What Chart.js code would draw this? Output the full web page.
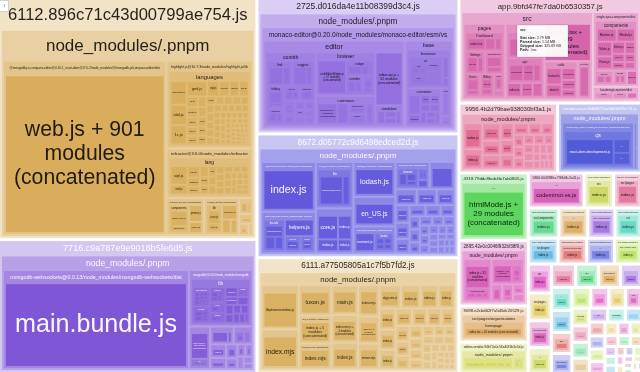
<!DOCTYPE html>
<html>
<head>
<meta charset="utf-8">
<title>bundle treemap</title>
<script src="https://cdn.jsdelivr.net/npm/chart.js@4.4.1/dist/chart.umd.min.js"></script>
<style>
  html, body { margin: 0; padding: 0; background: #fff; overflow: hidden; }
  canvas { display: block; }
</style>
</head>
<body>
<canvas id="treemap" width="640" height="372"></canvas>
<script>
/* --------------------- CHUNKS (parsed KB) --------------------- */
const chunkNames = [
  "6112.896c71c43d00799ae754.js",
  "7716.c9a787e9e9018b5fe6d5.js",
  "2725.d016da4e11b08399d3c4.js",
  "8672.d05772c9d6498edced2d.js",
  "6111.a77505805a1c7f5b7fd2.js",
  "app.9bfd47fe7da0b6530357.js",
  "9956.4b2d79bae938030bf3a1.js",
  "vendor-react.9dfd872ae6d66485c74.js",
  "4318.79ddc8bab4fa7ab0805.js",
  "2895.42e0c0046f932bf38f9.js",
  "9098.e2cbd02f7a5d5dc20529.js",
  "editor-vendor.94b72a0c56e40f1b3c2d.js"
];
const chunkKB = [602, 331, 263, 240, 224, 182, 65, 55, 45.6, 44, 23.4, 20];

/* small chunks filling the bottom right corner */
const restNames = [
  "5866.604398fcc73f4d3c2a01.js", "1043.a7e2b9c4d5f6e8a1.js", "spa-root.4c1e9a7b2d3f.js", "7520.2f4b6c8d0e1a3c5e.js",
  "4471.b3d5f7a9c1e3b5d7.js", "936.c8e0a2b4d6f8a0c2.js", "2210.d9f1b3c5e7a9b1d3.js", "6654.e0a2c4e6b8d0f2a4.js",
  "8135.f1b3d5f7c9e1a3b5.js", "512.a2c4e6a8d0f2b4c6.js", "3907.b3d5f7b9e1a3c5d7.js", "7761.c4e6a8c0f2b4d6e8.js",
  "1390.d5f7b9d1a3c5e7f9.js", "5528.e6a8c0e2b4d6f8a0.js", "269.f7b9d1f3c5e7a9b1.js", "4812.a8c0e2a4d6f8b0c2.js",
  "6093.b9d1f3b5e7a9c1d3.js", "8847.c0e2a4c6f8b0d2e4.js", "1675.d1f3b5d7a9c1e3f5.js", "3342.e2a4c6e8b0d2f4a6.js",
  "9120.f3b5d7f9c1e3a5b7.js", "704.a4c6e8a0d2f4b6c8.js", "2581.b5d7f9b1e3a5c7d9.js", "5019.c6e8a0c2f4b6d8e0.js",
  "7436.d7f9b1d3a5c7e9f1.js", "8902.e8a0c2e4b6d8f0a2.js", "183.f9b1d3f5c7e9a1b3.js", "6327.a0c2e4a6d8f0b2c4.js",
  "4655.b1d3f5b7e9a1c3d5.js", "3071.c2e4a6c8f0b2d4e6.js", "9784.d3f5b7d9a1c3e5f7.js", "1268.e4a6c8e0b2d4f6a8.js",
  "5893.f5b7d9f1c3e5a7b9.js", "402.a6c8e0a2d4f6b8c0.js", "7215.b7d9f1b3e5a7c9d1.js", "2936.c8e0a2c4f6b8d0e2.js",
  "8560.d9f1b3d5a7c9e1f3.js", "6148.e0a2c4e6b8d0f2a5.js", "3799.f1b3d5f7c9e1a3b6.js", "1512.a2c4e6a8d0f2b4c7.js",
  "9347.b3d5f7b9e1a3c5d8.js", "626.c4e6a8c0f2b4d6e9.js", "4083.d5f7b9d1a3c5e7f0.js", "7690.e6a8c0e2b4d6f8a1.js",
  "2458.f7b9d1f3c5e7a9b2.js", "8211.a8c0e2a4d6f8b0c3.js", "5376.b9d1f3b5e7a9c1d4.js", "947.c0e2a4c6f8b0d2e5.js",
  "3624.d1f3b5d7a9c1e3f6.js", "6801.e2a4c6e8b0d2f4a7.js", "1159.f3b5d7f9c1e3a5b8.js", "9472.a4c6e8a0d2f4b6c9.js",
  "2703.b5d7f9b1e3a5c7d0.js", "5985.c6e8a0c2f4b6d8e1.js", "338.d7f9b1d3a5c7e9f2.js", "8069.e8a0c2e4b6d8f0a3.js",
  "4216.f9b1d3f5c7e9a1b4.js", "7548.a0c2e4a6d8f0b2c5.js", "1897.b1d3f5b7e9a1c3d6.js"
];
const restKB = [19, 10, 9.5, 9, 8.5, 8, 7.8, 7.5, 7.2, 7, 6.8, 6.5, 6.2, 6, 5.8, 5.5, 5.2, 5, 4.8, 4.6,
  4.4, 4.2, 4, 3.8, 3.6, 3.4, 3.2, 3, 2.8, 2.7, 2.6, 2.5, 2.4, 2.2, 2.1, 2, 1.9, 1.8, 1.7, 1.6,
  1.5, 1.4, 1.3, 1.2, 1.1, 1, 0.9, 0.8, 0.8, 0.7, 0.7, 0.6, 0.6, 0.5, 0.5, 0.4, 0.4, 0.3, 0.3];
const restInner = ["node_modules/.pnpm", "src", "src/pages", "src/components", "..."];

/* --------------------- MODULES PER CHUNK --------------------- */
const hlNames = ["mathematica.js","isbl.js","1c.js","gml.js","sql.js","maxima.js","pgsql.js","sqf.js","lsl.js","x86asm.js",
  "mel.js","ruby.js","stata.js","javascript.js","typescript.js","cpp.js","php.js","scss.js","less.js","vim.js",
  "livecodeserver.js","arduino.js","gauss.js","autoit.js","perl.js","r.js","ocaml.js","python.js","java.js","kotlin.js",
  "csharp.js","fortran.js","erlang.js","bash.js","go.js","rust.js","lua.js","haskell.js","scala.js","swift.js",
  "julia.js","dart.js","elixir.js","clojure.js","nsis.js","powershell.js","ada.js","abnf.js","applescript.js","armasm.js",
  "asciidoc.js","awk.js","basic.js","bnf.js","cal.js","ceylon.js","clean.js","cmake.js","coffeescript.js","coq.js",
  "crmsh.js","crystal.js","css.js","d.js","delphi.js","diff.js","django.js","dns.js","dockerfile.js","dos.js",
  "dust.js","ebnf.js","elm.js","erb.js"];
const hlKB = [55,48,45,44,26,22,21,20,17,16, 15,14,13,13,12,12,11,11,11,10, 10,10,9,9,9,8,8,8,8,7,
  7,7,7,6,6,6,6,6,5,5, 5,5,5,5,5,5,4,4,4,4, 4,4,4,4,4,3,3,3,3,3, 3,3,3,3,3,3,3,3,3,3, 2,2,2,2];

const rfNames = ["sqf.js","mel.js","sas.js","cshtml.js","factor.js","apacheconf.js","abap.js","gml.js","sql.js","wolfram.js",
  "psl.js","xojo.js","vbnet.js","avisynth.js","nsis.js","q.js","al.js","magma.js","bsl.js","iecst.js",
  "gap.js","apl.js","ichigojam.js","nasm.js","pure.js","sml.js","smali.js","bro.js","jolie.js","keyman.js","hsts.js","qore.js"];
const rfKB = [58,29,26,20,17,17,14,14,14,12, 12,12,10,10,10,10,9,9,9,9, 9,7,7,7,7,7,7,5,5,5,5,5];

const content6112 = [["node_modules/.pnpm", [
  ["@mongodb-js+compass-editor@0.16.1_react-dom@17.0.2/node_modules/@mongodb-js/compass-editor/dist", [["web.js + 901 modules (concatenated)", 2650]]],
  ["highlight.js@10.7.3/node_modules/highlight.js/lib", [["languages", zip(hlNames, hlKB)]]],
  ["refractor@3.6.0/node_modules/refractor", [["lang", zip(rfNames, rfKB)]]],
  ["prismjs@1.29.0/node_modules/prismjs", [["components", [["prism-core.js", 60], ["prism-clike.js", 20]]], ["prism.js", 30], ["index.js", 20]]],
  ["lowlight@1.20.0/node_modules/lowlight", [["lib", [["core.js", 40], ["index.js", 22]]], ["emergency.js", 30], ["codegen.js", 16], ["index.js", 12]]],
  ["hastscript@6.0.0/node_modules/hastscript", [["factory.js", 14], ["html.js", 6]]],
  ["parse-entities@2.0.0/node_modules/parse-entities", [["index.js", 12]]],
  ["character-entities@1.2.4/node_modules/character-entities", [["index.json", 10]]],
  ["fault@1.0.4/node_modules/fault", [["index.js", 4]]]
]]];

const mongoLib = [
  ["operations", [["find.js", 8], ["aggregate.js", 7], ["update.js", 7], ["delete.js", 6], ["insert.js", 6], ["indexes.js", 6],
    ["execute_operation.js", 5], ["command.js", 5], ["count.js", 4], ["distinct.js", 3], ["list_collections.js", 3]]],
  ["cmap", [["connection.js", 16], ["connection_pool.js", 14], ["connect.js", 8], ["commands.js", 6], ["message_stream.js", 6]]],
  ["sdam", [["topology.js", 14], ["server.js", 10], ["monitor.js", 8], ["server_description.js", 7], ["topology_description.js", 6]]],
  ["bulk", [["common.js", 18], ["ordered.js", 6], ["unordered.js", 6]]],
  ["cursor", [["abstract_cursor.js", 14], ["find_cursor.js", 8], ["aggregation_cursor.js", 6]]],
  ["gridfs", [["upload.js", 8], ["download.js", 7], ["index.js", 5]]],
  ["utils.js", 22], ["collection.js", 18], ["mongo_client.js", 16], ["index.js", 14], ["db.js", 12],
  ["error.js", 12], ["sessions.js", 12], ["connection_string.js", 10], ["change_stream.js", 9], ["encrypter.js", 6]
];
const content7716 = [["node_modules/.pnpm", [
  ["mongodb-websockets@0.0.13/node_modules/mongodb-websockets/dist", [["main.bundle.js", 1870]]],
  ["mongodb@4.16.0/node_modules/mongodb", [["lib", mongoLib]]],
  ["whatwg-url@11.0.0/node_modules/whatwg-url", [["index.web.js + 151 modules (concatenated)", 70], ["lib", [["URL-impl.js", 10], ["url-state-machine.js", 12]]]]],
  ["saslprep@1.0.3/node_modules/saslprep", [["code-points.mem", 34], ["index.js", 8]]],
  ["socks@2.7.1/node_modules/socks/build", [["client", [["socksclient.js", 20]]], ["common", [["helpers.js", 8], ["util.js", 6]]]]],
  ["denque@2.1.0/node_modules/denque", [["index.js", 22]]],
  ["ip@2.0.0/node_modules/ip/lib", [["ip.js", 18]]],
  ["smart-buffer@4.2.0/node_modules/smart-buffer/build", [["smartbuffer.js", 16]]],
  ["punycode@2.3.0/node_modules/punycode", [["punycode.es6.js", 12]]],
  ["tr46@3.0.0/node_modules/tr46", [["index.js", 10]]],
  ["webidl-conversions@7.0.0/node_modules/webidl-conversions/lib", [["index.js", 9]]],
  ["events@3.3.0/node_modules/events", [["events.js", 8]]],
  ["memory-pager@1.5.0/node_modules/memory-pager", [["index.js", 6]]],
  ["sparse-bitfield@3.0.3/node_modules/sparse-bitfield", [["index.js", 5]]]
]]];

const monacoContrib = [
  ["find", [["findController.js + 3 modules (concatenated)", 60], ["findWidget.js", 30]]],
  ["suggest", [["suggestController.js + 11 modules (concatenated)", 55], ["suggestWidget.js", 25]]],
  ["folding", [["folding.js + 4 modules (concatenated)", 40], ["foldingModel.js", 12]]],
  ["gotoSymbol", [["goToCommands.js + 7 modules (concatenated)", 30]]],
  ["snippet", [["snippetParser.js", 22], ["snippetSession.js", 14]]],
  ["hover", [["modesContentHover.js", 20], ["hover.js", 14]]],
  ["colorPicker", [["colorDetector.js", 12], ["colorPickerWidget.js", 10]]],
  ["codelens", [["codelensController.js", 14]]],
  ["multicursor", [["multicursor.js", 13]]],
  ["parameterHints", [["parameterHintsWidget.js", 12]]],
  ["links", [["links.js", 10]]],
  ["wordHighlighter", [["wordHighlighter.js", 10]]],
  ["format", [["format.js", 9]]],
  ["bracketMatching", [["bracketMatching.js", 8]]]
];
const monacoBrowser = [
  ["codeEditorWidget.js + 57 modules (concatenated)", 150],
  ["widget", [["diffEditorWidget.js", 40], ["diffReview.js", 20], ["inlineDiffMargin.js", 8]]],
  ["controller", [["textAreaHandler.js", 28], ["mouseHandler.js", 20]]],
  ["viewParts", [["minimap.js", 20], ["lines.js", 10]]]
];
const monacoCommon = [
  ["textModel.js + 9 modules (concatenated)", 70],
  ["editorOptions.js", 40],
  ["viewModel", [["viewModelImpl.js", 18], ["splitLinesCollection.js", 16]]],
  ["modes", [["languageConfigurationRegistry.js", 16], ["supports.js", 12]]],
  ["services", [["editorSimpleWorker.js", 20], ["getIconClasses.js", 8]]]
];
const monacoStandalone = [["standaloneServices.js", 20], ["standaloneCodeEditor.js", 16], ["quickOpen.js", 14], ["standaloneThemeServiceImpl.js", 12]];
const monacoBase = [
  ["browser", [["ui", [["scrollbar", [["scrollableElement.js", 30]]], ["list", [["listWidget.js", 30], ["listView.js", 22]]],
    ["tree", [["abstractTree.js", 28], ["objectTreeModel.js", 10]]], ["sash", [["sash.js", 15]]], ["splitview", [["splitview.js", 12]]],
    ["inputbox", [["inputBox.js", 12]]], ["findinput", [["findInput.js", 10]]]]], ["dom.js", 20], ["keyboardEvent.js", 8]]],
  ["common", [["lifecycle.js + 4 modules (concatenated)", 40], ["strings.js", 18], ["uri.js", 16], ["arrays.js", 14], ["event.js", 12],
    ["async.js", 12], ["filters.js", 12], ["color.js", 10], ["errors.js", 8], ["platform.js", 8]]],
  ["parts", [["quickopen", [["quickOpenWidget.js", 20], ["quickOpenModel.js", 10]]]]],
  ["worker", [["simpleWorker.js", 10]]]
];
const content2725 = [["node_modules/.pnpm", [["monaco-editor@0.20.0/node_modules/monaco-editor/esm/vs", [
  ["editor", [["contrib", monacoContrib], ["browser", monacoBrowser], ["common", monacoCommon],
    ["editor.api.js + 52 modules (concatenated)", 164], ["standalone", monacoStandalone]]],
  ["base", monacoBase]
]]]]];

const smallPkgs = ["xtend","buffer","ieee754","events","punycode","inherits","safe-buffer","process","util","assert",
  "path-browserify","querystring-es3","url","string_decoder","readable-stream","stream-browserify","os-browserify","timers-browserify","crypto-browserify","browserify-zlib",
  "tty-browserify","vm-browserify","constants-browserify","domain-browser","https-browserify","stream-http","console-browserify","debug","ms","uuid",
  "nanoid","clsx","classnames","prop-types","react-is","object-assign","scheduler","hoist-non-react-statics","tslib","regenerator-runtime",
  "core-js","lodash.debounce","lodash.throttle","memoize-one","invariant","warning","tiny-invariant","history","qs","side-channel"];

const big8672 = [
  ["@faker-js+faker@7.6.0/node_modules/@faker-js/faker/dist/esm", [["index.js", 240]]],
  ["date-fns@2.30.0/node_modules/date-fns/esm", [["locale", [["formatLong.js", 40], ["formatters.js", 25], ["tokens.js", 20]]],
    ["helpers.js", 60], ["format", [["index.js", 30]]], ["parse", [["index.js", 25]]]]],
  ["tr46@3.0.0/node_modules/tr46", [["lib", [["mappingTable.json", 120], ["regexes.js", 35]]]]],
  ["mongodb-connection-string-url@2.6.0/node_modules/mongodb-connection-string-url/lib", [["core.js", 60], ["index.js", 40], ["redact.js", 20], ["index.js", 30]]],
  ["lodash@4.17.21/node_modules/lodash", [["lodash.js", 130]]],
  ["@faker-js+faker@7.6.0/node_modules/@faker-js/faker/dist/esm/locales", [["en_US.js", 110]]],
  ["moment@2.29.4/node_modules/moment", [["moment.js", 50], ["locale", [["en-gb.js", 14], ["fr.js", 12], ["de.js", 12], ["es.js", 12]]]]],
  ["semver@7.5.4/node_modules/semver", [["classes", [["range.js", 25], ["semver.js", 20], ["comparator.js", 12]]],
    ["functions", [["satisfies.js", 8], ["coerce.js", 8]]], ["index.js", 10]]],
  ["base64-stream@1.0.0/node_modules/base64-stream/lib", [["base64-decoded-stream.js", 60]]]
];
const small8672KB = [30,28,25,22,20,18,16,15,14,12,12,10,10,9,9,8,8,7,7,6,6,5,5,5,4,4,4,4,3,3,3,3];
const content8672 = [["node_modules/.pnpm", big8672.concat(pkgGroups(smallPkgs.slice(0, 32), small8672KB))]];

const pk6111Names = ["libphonenumber-js@1.10.37/node_modules/libphonenumber-js/es6","@formatjs+intl@2.9.0/node_modules/@formatjs/intl/lib",
  "luxon@3.3.0/node_modules/luxon/src","yup@1.2.0/node_modules/yup","zod@3.21.4/node_modules/zod/lib","i18next@23.2.3/node_modules/i18next/dist/esm",
  "react-hook-form@7.45.1/node_modules/react-hook-form/dist","intl-messageformat@10.5.0/node_modules/intl-messageformat/lib",
  "@tanstack+query-core@4.29.19/node_modules/@tanstack/query-core/build/lib","axios@1.4.0/node_modules/axios/lib",
  "immer@10.0.2/node_modules/immer/dist","dayjs@1.11.9/node_modules/dayjs"];
const pk6111Files = ["libphonenumber.js","index.mjs","luxon.js","index.js + 5 modules (concatenated)","index.mjs","main.js",
  "index.esm.js + 4 modules (concatenated)","index.js","index.mjs","index.js + 3 modules (concatenated)","immer.mjs","dayjs.min.js"];
const pk6111KB = [200,180,120,110,100,95,90,85,80,70,65,60];
const tail6111KB = [55,50,45,42,40,38,35,32,30,28,26,24,22,20,18,16,15,14,13,12,11,10,10,9,9,8,8,7,7,6,6,5,5,5,4,4,4,3,3,3];
const content6111 = [["node_modules/.pnpm",
  pk6111Names.map((n, i) => [n, [[pk6111Files[i], pk6111KB[i]]]]).concat(pkgGroups(smallPkgs.slice(10, 50), tail6111KB))]];

const appPages = [
  ["Dashboard", [["index.tsx", 40], ["UsageChart.tsx", 22], ["Summary.tsx", 14]]],
  ["Settings", [["index.tsx", 30], ["ApiKeys.tsx", 16]]],
  ["Organizations", [["OrganizationList.tsx", 28], ["index.tsx", 15]]],
  ["Users", [["UserTable.tsx", 24], ["index.tsx", 10]]],
  ["Billing", [["index.tsx", 20], ["Invoices.tsx", 12]]],
  ["Login", [["index.tsx", 16]]],
  ["NotFound", [["index.tsx", 6]]]
];
const appStore = [
  ["slices", [["authSlice.ts", 30], ["orgSlice.ts", 26], ["userSlice.ts", 22], ["billingSlice.ts", 18]]],
  ["api", [["endpoints.ts", 40], ["client.ts", 30], ["hooks.ts", 20]]],
  ["index.ts", 20], ["selectors.ts", 16], ["middleware.ts", 14]
];
const appUtils = [["format.ts", 30], ["date.ts", 22], ["validators.ts", 20], ["constants.ts", 16], ["helpers.ts", 12]];
const content_app = [
  ["src", [["pages", appPages], ["index.tsx + 189 modules (concatenated)", 140], ["store", appStore], ["utils", appUtils],
    ["generated", [["graphql.ts", 40]]]]],
  ["single-spa-components/dist", [["components", [["Button.js", 30], ["Modal.js", 28], ["Table.js", 26], ["Form.js", 22], ["Select.js", 18],
    ["Tabs.js", 14], ["Menu.js", 12], ["Tooltip.js", 10], ["Icon.js", 10], ["Card.js", 8]]],
    ["theme", [["colors.js", 12], ["tokens.js", 10]]], ["hooks", [["useModal.js", 8], ["useTable.js", 8]]], ["index.js", 12]]],
  ["lux-design-system/dist", [["Button", [["index.js", 18]]], ["Layout", [["index.js", 14]]], ["index.js", 10]]]
];

const small9956KB = [40,30,26,22,20,18,16,15,14,12,11,10,9,9,8,8,7,7,6,6,5,5,5,4,4,4,3,3,3,3];
const content9956 = [["node_modules/.pnpm", pkgGroups(smallPkgs.slice(18, 48), small9956KB)]];

const contentVendor = [["node_modules/.pnpm", [
  ["react-dom@18.2.0_react@18.2.0/node_modules/react-dom", [["cjs", [["react-dom.development.js", 380], ["...", 70], ["...", 60]]]]],
  ["scheduler@0.23.0/node_modules/scheduler", [["cjs", [["scheduler.development.js", 12]]]]],
  ["react@18.2.0/node_modules/react", [["cjs", [["react.development.js", 10]]]]]
]]];
const content4318 = [["...", [["htmlMode.js + 29 modules (concatenated)", 100]]]];
const content2895 = [["node_modules/.pnpm", [
  ["@ant-design+plots@1.2.5/node_modules/@ant-design/plots/es", [["index.js + 31 modules (concatenated)", 60],
    ["components", [["line.js", 12], ["pie.js", 10], ["area.js", 8]]]]],
  ["@antv+g2@4.2.10/node_modules/@antv/g2/esm", [["chart.js + 12 modules (concatenated)", 40], ["geometry", [["base.js", 14], ["interval.js", 8]]]]],
  ["d3-color@3.1.0/node_modules/d3-color/src", [["color.js", 14]]],
  ["d3-array@3.2.4/node_modules/d3-array/src", [["index.js", 10], ["bisect.js", 4]]],
  ["fecha@4.2.3/node_modules/fecha/lib", [["fecha.js", 8]]],
  ["tslib@2.6.0/node_modules/tslib", [["tslib.es6.js", 6]]]
]]];
const content9098 = [["src/pages/organizations", [["homepage", [["index.tsx + 14 modules (concatenated)", 40]]]]]];
const contentEditorVendor = [["node_modules/.pnpm", [
  ["monaco-languages@1.10.0/node_modules/monaco-languages/release/esm", [["...", 20], ["...", 12], ["...", 8], ["...", 6]]],
  ["...", [["...", 6], ["...", 4]]]
]]];

const chunkContents = [content6112, content7716, content2725, content8672, content6111, content_app,
  content9956, contentVendor, content4318, content2895, content9098, contentEditorVendor];

/* --------------------- STYLE ----------------------- */
const chunkColors = ["#d9ad5c", "#7f57d6", "#9370de", "#6258dc", "#d9b060", "#d563aa",
  "#e0648e", "#5058d6", "#5cd65c", "#d65cb8", "#dba35c", "#d0d65c"];
const restPalette = ["#d65cb8", "#c9d65c", "#e0709a", "#5cd68a", "#d9a85c", "#a070e0", "#5cd6bf",
  "#5cb4e0", "#e07070", "#6f78e0", "#b8e05c", "#e05cc8", "#e0c85c"];
const FONT = '"Liberation Sans", Arial, sans-serif';
const W = 640, H = 372;
const TOP_GAP = 3, GAP = 2, PAD = 1, GROUP_ALPHA = 0.34;

// columns of the top level (indexes into chunkNames), "rest" = small chunks
const topLayout = ["h", [
  ["v", [0, 1]],
  ["v", [2, 3, 4]],
  ["v", [5, ["h", [6, 7]], ["h", [["v", [8, 9, 10, 11]], "rest"]]]]
]];

/* --------------------- UTILITIES ----------------------- */
function zip(names, vals) {
  return names.map((n, i) => [n, vals[i] || 1]);
}

function pkgGroups(names, vals) {
  return names.map((n, i) => [n + "/node_modules/" + n, [["index.js", vals[i] || 1]]]);
}

function hexRgb(h) {
  const v = parseInt(h.slice(1), 16);
  return [(v >> 16) & 255, (v >> 8) & 255, v & 255];
}

function relLum(rgb) {
  const c = rgb.map((v) => {
    v /= 255;
    return v <= 0.03928 ? v / 12.92 : Math.pow((v + 0.055) / 1.055, 2.4);
  });
  return 0.2126 * c[0] + 0.7152 * c[1] + 0.0722 * c[2];
}

function rgba(rgb, a) {
  return `rgba(${rgb[0]},${rgb[1]},${rgb[2]},${a})`;
}

function mk(a, rgb) {
  if (Array.isArray(a[1])) {
    const kids = a[1].map((k) => mk(k, rgb));
    return { label: a[0], kids, rgb, value: kids.reduce((s, k) => s + k.value, 0) };
  }
  return { label: a[0], value: a[1], rgb };
}

function chunkNode(label, kb, content, color) {
  const rgb = hexRgb(color);
  return { label, value: kb, rgb, kids: content.map((k) => mk(k, rgb)) };
}

/* --------------------- BUILD TREE ---------------------- */
const chunkNodes = chunkNames.map((n, i) => chunkNode(n, chunkKB[i], chunkContents[i], chunkColors[i]));
const restNodes = restNames.map((n, i) => {
  const inner = i === 0 ? [["...", [["codemirror.es.js", 1]]]] : [[restInner[i % restInner.length], [["index.js", 1]]]];
  return chunkNode(n, restKB[i], inner, restPalette[i % restPalette.length]);
});

function build(spec) {
  if (typeof spec === "number") return chunkNodes[spec];
  if (spec === "rest") return { split: "sq", kids: restNodes, value: restNodes.reduce((s, k) => s + k.value, 0) };
  const kids = spec[1].map(build);
  return { split: spec[0], kids, value: kids.reduce((s, k) => s + k.value, 0) };
}
const root = build(topLayout);

/* --------------------- LAYOUT -------------------------- */
function worst(vals, sum, side) {
  const mx = Math.max(...vals), mn = Math.min(...vals);
  const s2 = side * side, sum2 = sum * sum;
  return Math.max((s2 * mx) / sum2, sum2 / (s2 * mn));
}

function squarify(kids, R, gap, depth) {
  const items = kids.slice().sort((a, b) => b.value - a.value);
  const tot = items.reduce((s, k) => s + k.value, 0);
  if (tot <= 0 || R.w <= 1 || R.h <= 1) { kids.forEach((k) => (k.hidden = true)); return; }
  const sc = (R.w * R.h) / tot;
  let { x, y, w, h } = R;
  let i = 0;
  while (i < items.length) {
    const side = Math.min(w, h);
    const row = [items[i]];
    let areas = [items[i].value * sc];
    let sum = areas[0];
    i++;
    while (i < items.length) {
      const a = items[i].value * sc;
      if (worst(areas.concat([a]), sum + a, side) <= worst(areas, sum, side)) {
        row.push(items[i]); areas.push(a); sum += a; i++;
      } else break;
    }
    if (w >= h) {
      const cw = Math.min(w, sum / h);
      let cy = y;
      row.forEach((k, j) => {
        const ch = areas[j] / cw;
        place(k, x + gap / 2, cy + gap / 2, cw - gap, ch - gap, depth);
        cy += ch;
      });
      x += cw; w -= cw;
    } else {
      const rh = Math.min(h, sum / w);
      let cx = x;
      row.forEach((k, j) => {
        const kw = areas[j] / rh;
        place(k, cx + gap / 2, y + gap / 2, kw - gap, rh - gap, depth);
        cx += kw;
      });
      y += rh; h -= rh;
    }
  }
}

function place(n, x, y, w, h, depth) {
  if (w < 0.6 || h < 0.6) { n.hidden = true; return; }
  Object.assign(n, { x, y, w, h, hidden: false });
  if (n.split === "sq") {
    squarify(n.kids, { x: x - TOP_GAP / 2, y: y - TOP_GAP / 2, w: w + TOP_GAP, h: h + TOP_GAP }, TOP_GAP, depth);
    return;
  }
  if (n.split) {
    const horiz = n.split === "h";
    const avail = (horiz ? w : h) - TOP_GAP * (n.kids.length - 1);
    let off = 0;
    n.kids.forEach((k) => {
      const len = (avail * k.value) / n.value;
      if (horiz) place(k, x + off, y, len, h, depth);
      else place(k, x, y + off, w, len, depth);
      off += len + TOP_GAP;
    });
    return;
  }
  if (!n.kids) return;
  const s = Math.sqrt(w * h);
  const f = s > 200 ? 17 : Math.min(10, 0.67 * Math.sqrt(s));
  n.font = f;
  n.hh = Math.min(h * 0.4, f * (1.3 + 0.025 * f) + 0.5);
  const R = { x: x + PAD, y: y + n.hh, w: w - 2 * PAD, h: h - n.hh - PAD };
  if (R.w < 2 || R.h < 2) { n.kids.forEach((k) => (k.hidden = true)); return; }
  squarify(n.kids, R, GAP, depth + 1);
}

/* --------------------- DRAWING ------------------------- */
function textColor(rgb) {
  return relLum(rgb) < 0.22 ? "rgba(255,255,255,0.95)" : "rgba(0,0,0,0.85)";
}

function headerLabel(ctx, n, x0, y0, w, hh) {
  let f = n.font;
  ctx.font = `${f}px ${FONT}`;
  const tw = ctx.measureText(n.label).width;
  const room = (w - 3) * 0.95;
  if (tw > room) f = (f * room) / tw;
  if (f < 1.6) return;
  ctx.font = `${f}px ${FONT}`;
  ctx.fillStyle = textColor(n.rgb);
  ctx.fillText(n.label, x0 + w / 2, y0 + hh / 2 + f * 0.05);
}

function leafLabel(ctx, n, x0, y0, w, h) {
  const words = n.label.split(" ");
  ctx.font = `10px ${FONT}`;
  const wd = (s) => ctx.measureText(s).width / 10;
  const cap = Math.min(40, 0.25 * Math.sqrt(w * h));
  const total = wd(n.label);
  let best = null;
  for (let nl = 1; nl <= Math.min(4, words.length); nl++) {
    const target = total / nl;
    const lines = [];
    let cur = "";
    words.forEach((wo) => {
      const t = cur ? cur + " " + wo : wo;
      if (cur && wd(t) > target * 1.15) { lines.push(cur); cur = wo; } else cur = t;
    });
    if (cur) lines.push(cur);
    const mw = Math.max(...lines.map(wd));
    const f = Math.min(cap, (0.9 * w) / mw, (0.82 * h) / (lines.length * 1.15));
    if (!best || f > best.f) best = { f, lines };
  }
  if (best.f < 1.6) return;
  ctx.font = `${best.f}px ${FONT}`;
  ctx.fillStyle = textColor(n.rgb);
  const lh = best.f * 1.15;
  const top = y0 + h / 2 - (lh * best.lines.length) / 2 + lh / 2;
  best.lines.forEach((l, i) => ctx.fillText(l, x0 + w / 2, top + i * lh));
}

function drawNode(ctx, n, X, Y) {
  if (n.hidden || n.x === undefined) return;
  if (n.split) { n.kids.forEach((k) => drawNode(ctx, k, X, Y)); return; }
  const x0 = X(n.x), y0 = Y(n.y);
  const w = X(n.x + n.w) - x0, h = Y(n.y + n.h) - y0;
  if (n.kids) {
    ctx.fillStyle = rgba(n.rgb, GROUP_ALPHA);
    ctx.fillRect(x0, y0, w, h);
    headerLabel(ctx, n, x0, y0, w, Y(n.y + n.hh) - y0);
    n.kids.forEach((k) => drawNode(ctx, k, X, Y));
  } else {
    const a = Math.min(1, 0.75 + (0.25 * Math.sqrt(w * h)) / 40);
    ctx.fillStyle = rgba(n.rgb, a);
    ctx.fillRect(x0, y0, w, h);
    leafLabel(ctx, n, x0, y0, w, h);
  }
}

/* hover tooltip that sits over the app chunk */
function drawTip(ctx) {
  const x = 517, y = 25, w = 51, h = 32;
  ctx.save();
  ctx.shadowColor = "rgba(0,0,0,0.15)";
  ctx.shadowBlur = 2;
  ctx.fillStyle = "rgba(255,255,255,0.95)";
  ctx.fillRect(x, y, w, h);
  ctx.restore();
  ctx.strokeStyle = "#d8d8d8";
  ctx.lineWidth = 0.5;
  ctx.strokeRect(x + 0.25, y + 0.25, w - 0.5, h - 0.5);
  ctx.textAlign = "left";
  ctx.fillStyle = "#222";
  ctx.font = `bold 3.8px ${FONT}`;
  ctx.fillText("src", x + 3, y + 4.5);
  const rows = [["Stat size:", "2.79 MB"], ["Parsed size:", "1.14 MB"], ["Gzipped size:", "325.69 KB"], ["Path:", "./src"]];
  rows.forEach((r, i) => {
    const ty = y + 12.5 + i * 4.2;
    ctx.font = `bold 3.6px ${FONT}`;
    ctx.fillText(r[0], x + 3, ty);
    const lw = ctx.measureText(r[0] + " ").width;
    ctx.font = `3.6px ${FONT}`;
    ctx.fillText(r[1], x + 3 + lw, ty);
  });
  ctx.textAlign = "center";
}

/* sidebar toggle in the corner */
function drawToggle(ctx) {
  ctx.fillStyle = "#fff";
  ctx.fillRect(0, 0, 9, 12);
  ctx.strokeStyle = "#cfcfcf";
  ctx.lineWidth = 1;
  ctx.strokeRect(-0.5, 0.5, 9, 11);
  ctx.fillStyle = "#888";
  ctx.font = `7px ${FONT}`;
  ctx.fillText("›", 4.5, 6.5);
}

const treemapPlugin = {
  id: "treemap",
  beforeDraw(chart) {
    const ctx = chart.ctx;
    ctx.save();
    ctx.fillStyle = "#fff";
    ctx.fillRect(0, 0, chart.width, chart.height);
    ctx.restore();
  },
  afterDraw(chart) {
    const xs = chart.scales.x, ys = chart.scales.y;
    const X = (v) => xs.getPixelForValue(v);
    const Y = (v) => ys.getPixelForValue(v);
    place(root, 0, 0, W, H, 0);
    const ctx = chart.ctx;
    ctx.save();
    ctx.textAlign = "center";
    ctx.textBaseline = "middle";
    drawNode(ctx, root, X, Y);
    drawTip(ctx);
    drawToggle(ctx);
    ctx.restore();
  }
};

new Chart(document.getElementById("treemap"), {
  type: "scatter",
  data: { datasets: [{ data: [] }] },
  options: {
    responsive: false,
    animation: false,
    devicePixelRatio: 1,
    layout: { padding: 0 },
    plugins: { legend: { display: false }, tooltip: { enabled: false } },
    scales: {
      x: { type: "linear", min: 0, max: W, display: false },
      y: { type: "linear", min: 0, max: H, reverse: true, display: false }
    }
  },
  plugins: [treemapPlugin]
});
</script>
</body>
</html>
